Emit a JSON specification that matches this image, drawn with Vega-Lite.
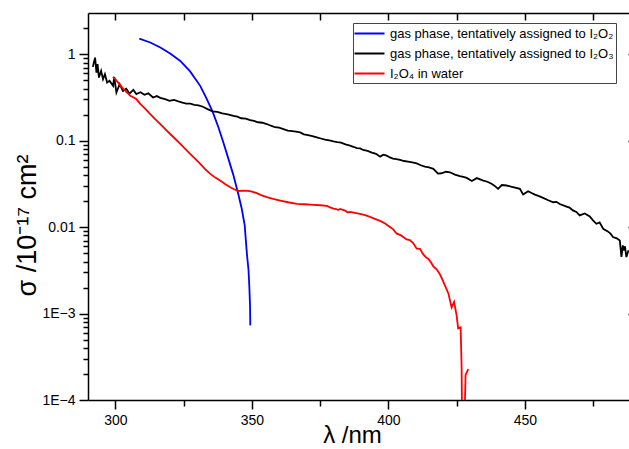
{
  "$schema": "https://vega.github.io/schema/vega-lite/v6.json",
  "width": 546,
  "height": 387,
  "autosize": {"type": "none"},
  "padding": {"left": 88, "top": 13, "right": 0, "bottom": 49},
  "background": "white",
  "config": {
    "view": {"stroke": null},
    "axis": {
      "grid": false,
      "domainColor": "black",
      "tickColor": "black",
      "domainWidth": 1.5,
      "tickWidth": 1.5,
      "labelFont": "Liberation Sans",
      "labelFontSize": 14,
      "labelColor": "black",
      "titleFont": "Liberation Sans",
      "titleFontWeight": "normal",
      "titleColor": "black"
    }
  },
  "data": {
    "values": [
      {"s": "I2O2", "x": 308.8, "y": 1.513},
      {"s": "I2O2", "x": 312.8, "y": 1.368},
      {"s": "I2O2", "x": 316.5, "y": 1.198},
      {"s": "I2O2", "x": 320.1, "y": 1.021},
      {"s": "I2O2", "x": 323.8, "y": 0.837},
      {"s": "I2O2", "x": 327.4, "y": 0.633},
      {"s": "I2O2", "x": 331.1, "y": 0.431},
      {"s": "I2O2", "x": 333.3, "y": 0.313},
      {"s": "I2O2", "x": 335.6, "y": 0.218},
      {"s": "I2O2", "x": 337.7, "y": 0.145},
      {"s": "I2O2", "x": 339.5, "y": 0.0974},
      {"s": "I2O2", "x": 341.3, "y": 0.0637},
      {"s": "I2O2", "x": 343.2, "y": 0.0405},
      {"s": "I2O2", "x": 345.0, "y": 0.0245},
      {"s": "I2O2", "x": 346.3, "y": 0.0164},
      {"s": "I2O2", "x": 347.4, "y": 0.01046},
      {"s": "I2O2", "x": 348.2, "y": 0.00493},
      {"s": "I2O2", "x": 348.8, "y": 0.00317},
      {"s": "I2O2", "x": 349.1, "y": 0.00203},
      {"s": "I2O2", "x": 349.35, "y": 0.00125},
      {"s": "I2O2", "x": 349.45, "y": 0.00073},

      {"s": "I2O3", "x": 291.8, "y": 0.714},
      {"s": "I2O3", "x": 292.1, "y": 0.794},
      {"s": "I2O3", "x": 292.6, "y": 0.914},
      {"s": "I2O3", "x": 293.1, "y": 0.614},
      {"s": "I2O3", "x": 293.5, "y": 0.767},
      {"s": "I2O3", "x": 294.0, "y": 0.537},
      {"s": "I2O3", "x": 294.8, "y": 0.642},
      {"s": "I2O3", "x": 295.5, "y": 0.515},
      {"s": "I2O3", "x": 296.2, "y": 0.588},
      {"s": "I2O3", "x": 297.0, "y": 0.470},
      {"s": "I2O3", "x": 297.9, "y": 0.492},
      {"s": "I2O3", "x": 299.2, "y": 0.431},
      {"s": "I2O3", "x": 299.6, "y": 0.547},
      {"s": "I2O3", "x": 300.4, "y": 0.361},
      {"s": "I2O3", "x": 301.6, "y": 0.451},
      {"s": "I2O3", "x": 302.8, "y": 0.377},
      {"s": "I2O3", "x": 304.0, "y": 0.398},
      {"s": "I2O3", "x": 305.2, "y": 0.351},
      {"s": "I2O3", "x": 306.6, "y": 0.388},
      {"s": "I2O3", "x": 307.7, "y": 0.346},
      {"s": "I2O3", "x": 309.2, "y": 0.363},
      {"s": "I2O3", "x": 310.7, "y": 0.339},
      {"s": "I2O3", "x": 312.1, "y": 0.353},
      {"s": "I2O3", "x": 313.8, "y": 0.316},
      {"s": "I2O3", "x": 315.2, "y": 0.328},
      {"s": "I2O3", "x": 316.5, "y": 0.313},
      {"s": "I2O3", "x": 318.2, "y": 0.302},
      {"s": "I2O3", "x": 319.9, "y": 0.289},
      {"s": "I2O3", "x": 321.5, "y": 0.296},
      {"s": "I2O3", "x": 323.1, "y": 0.285},
      {"s": "I2O3", "x": 324.6, "y": 0.276},
      {"s": "I2O3", "x": 326.0, "y": 0.269},
      {"s": "I2O3", "x": 327.5, "y": 0.268},
      {"s": "I2O3", "x": 328.9, "y": 0.260},
      {"s": "I2O3", "x": 330.5, "y": 0.256},
      {"s": "I2O3", "x": 332.1, "y": 0.247},
      {"s": "I2O3", "x": 333.8, "y": 0.232},
      {"s": "I2O3", "x": 335.6, "y": 0.218},
      {"s": "I2O3", "x": 337.4, "y": 0.216},
      {"s": "I2O3", "x": 339.2, "y": 0.2075},
      {"s": "I2O3", "x": 341.2, "y": 0.202},
      {"s": "I2O3", "x": 343.3, "y": 0.194},
      {"s": "I2O3", "x": 344.7, "y": 0.190},
      {"s": "I2O3", "x": 346.1, "y": 0.1818},
      {"s": "I2O3", "x": 347.8, "y": 0.180},
      {"s": "I2O3", "x": 349.4, "y": 0.1733},
      {"s": "I2O3", "x": 350.8, "y": 0.1690},
      {"s": "I2O3", "x": 352.3, "y": 0.1634},
      {"s": "I2O3", "x": 353.9, "y": 0.1612},
      {"s": "I2O3", "x": 355.5, "y": 0.1558},
      {"s": "I2O3", "x": 357.0, "y": 0.1490},
      {"s": "I2O3", "x": 358.5, "y": 0.1431},
      {"s": "I2O3", "x": 360.0, "y": 0.1412},
      {"s": "I2O3", "x": 361.6, "y": 0.1364},
      {"s": "I2O3", "x": 363.2, "y": 0.1310},
      {"s": "I2O3", "x": 364.8, "y": 0.1287},
      {"s": "I2O3", "x": 366.2, "y": 0.1270},
      {"s": "I2O3", "x": 367.7, "y": 0.1247},
      {"s": "I2O3", "x": 369.1, "y": 0.1185},
      {"s": "I2O3", "x": 370.6, "y": 0.1157},
      {"s": "I2O3", "x": 372.2, "y": 0.1130},
      {"s": "I2O3", "x": 373.8, "y": 0.1092},
      {"s": "I2O3", "x": 375.3, "y": 0.1060},
      {"s": "I2O3", "x": 376.8, "y": 0.1027},
      {"s": "I2O3", "x": 378.4, "y": 0.1010},
      {"s": "I2O3", "x": 379.9, "y": 0.0981},
      {"s": "I2O3", "x": 381.3, "y": 0.0960},
      {"s": "I2O3", "x": 382.7, "y": 0.0948},
      {"s": "I2O3", "x": 384.3, "y": 0.0905},
      {"s": "I2O3", "x": 386.0, "y": 0.0876},
      {"s": "I2O3", "x": 387.2, "y": 0.0850},
      {"s": "I2O3", "x": 388.5, "y": 0.0819},
      {"s": "I2O3", "x": 389.7, "y": 0.0815},
      {"s": "I2O3", "x": 390.8, "y": 0.0781},
      {"s": "I2O3", "x": 392.4, "y": 0.0760},
      {"s": "I2O3", "x": 394.0, "y": 0.0727},
      {"s": "I2O3", "x": 395.5, "y": 0.0705},
      {"s": "I2O3", "x": 397.0, "y": 0.0654},
      {"s": "I2O3", "x": 398.2, "y": 0.0690},
      {"s": "I2O3", "x": 399.4, "y": 0.0671},
      {"s": "I2O3", "x": 400.6, "y": 0.0640},
      {"s": "I2O3", "x": 401.7, "y": 0.0620},
      {"s": "I2O3", "x": 403.0, "y": 0.0612},
      {"s": "I2O3", "x": 404.3, "y": 0.0599},
      {"s": "I2O3", "x": 405.8, "y": 0.0582},
      {"s": "I2O3", "x": 407.2, "y": 0.0573},
      {"s": "I2O3", "x": 408.8, "y": 0.0560},
      {"s": "I2O3", "x": 410.4, "y": 0.0547},
      {"s": "I2O3", "x": 411.9, "y": 0.0520},
      {"s": "I2O3", "x": 413.4, "y": 0.0501},
      {"s": "I2O3", "x": 414.9, "y": 0.0490},
      {"s": "I2O3", "x": 416.5, "y": 0.0472},
      {"s": "I2O3", "x": 418.2, "y": 0.0416},
      {"s": "I2O3", "x": 419.5, "y": 0.0420},
      {"s": "I2O3", "x": 421.1, "y": 0.0437},
      {"s": "I2O3", "x": 422.6, "y": 0.0431},
      {"s": "I2O3", "x": 424.4, "y": 0.0405},
      {"s": "I2O3", "x": 426.2, "y": 0.0390},
      {"s": "I2O3", "x": 427.5, "y": 0.0382},
      {"s": "I2O3", "x": 428.7, "y": 0.0371},
      {"s": "I2O3", "x": 430.6, "y": 0.0341},
      {"s": "I2O3", "x": 432.4, "y": 0.0369},
      {"s": "I2O3", "x": 434.8, "y": 0.0346},
      {"s": "I2O3", "x": 436.3, "y": 0.0335},
      {"s": "I2O3", "x": 437.8, "y": 0.0317},
      {"s": "I2O3", "x": 439.0, "y": 0.0300},
      {"s": "I2O3", "x": 440.2, "y": 0.0277},
      {"s": "I2O3", "x": 441.6, "y": 0.0307},
      {"s": "I2O3", "x": 443.3, "y": 0.0303},
      {"s": "I2O3", "x": 445.7, "y": 0.0290},
      {"s": "I2O3", "x": 448.2, "y": 0.0277},
      {"s": "I2O3", "x": 449.4, "y": 0.0238},
      {"s": "I2O3", "x": 451.2, "y": 0.0260},
      {"s": "I2O3", "x": 452.5, "y": 0.0248},
      {"s": "I2O3", "x": 453.7, "y": 0.0238},
      {"s": "I2O3", "x": 455.2, "y": 0.0228},
      {"s": "I2O3", "x": 456.7, "y": 0.0218},
      {"s": "I2O3", "x": 458.4, "y": 0.0206},
      {"s": "I2O3", "x": 460.4, "y": 0.0194},
      {"s": "I2O3", "x": 461.6, "y": 0.0196},
      {"s": "I2O3", "x": 462.8, "y": 0.0185},
      {"s": "I2O3", "x": 465.3, "y": 0.0173},
      {"s": "I2O3", "x": 466.4, "y": 0.0168},
      {"s": "I2O3", "x": 467.6, "y": 0.0156},
      {"s": "I2O3", "x": 468.9, "y": 0.0150},
      {"s": "I2O3", "x": 470.1, "y": 0.01365},
      {"s": "I2O3", "x": 472.0, "y": 0.01439},
      {"s": "I2O3", "x": 473.8, "y": 0.01328},
      {"s": "I2O3", "x": 475.0, "y": 0.0120},
      {"s": "I2O3", "x": 476.2, "y": 0.01094},
      {"s": "I2O3", "x": 477.4, "y": 0.01133},
      {"s": "I2O3", "x": 478.7, "y": 0.00958},
      {"s": "I2O3", "x": 480.4, "y": 0.00892},
      {"s": "I2O3", "x": 481.4, "y": 0.00840},
      {"s": "I2O3", "x": 482.3, "y": 0.00767},
      {"s": "I2O3", "x": 483.7, "y": 0.00741},
      {"s": "I2O3", "x": 484.8, "y": 0.00702},
      {"s": "I2O3", "x": 485.4, "y": 0.00451},
      {"s": "I2O3", "x": 485.9, "y": 0.00615},
      {"s": "I2O3", "x": 486.2, "y": 0.00538},
      {"s": "I2O3", "x": 486.7, "y": 0.00600},
      {"s": "I2O3", "x": 487.2, "y": 0.00451},
      {"s": "I2O3", "x": 488.0, "y": 0.00538},

      {"s": "I2O4", "x": 299.16, "y": 0.547},
      {"s": "I2O4", "x": 299.5, "y": 0.530},
      {"s": "I2O4", "x": 300.0, "y": 0.515},
      {"s": "I2O4", "x": 301.1, "y": 0.467},
      {"s": "I2O4", "x": 303.0, "y": 0.395},
      {"s": "I2O4", "x": 305.5, "y": 0.330},
      {"s": "I2O4", "x": 307.7, "y": 0.303},
      {"s": "I2O4", "x": 309.2, "y": 0.265},
      {"s": "I2O4", "x": 311.0, "y": 0.2339},
      {"s": "I2O4", "x": 312.8, "y": 0.2032},
      {"s": "I2O4", "x": 314.6, "y": 0.1780},
      {"s": "I2O4", "x": 316.5, "y": 0.1558},
      {"s": "I2O4", "x": 318.3, "y": 0.1364},
      {"s": "I2O4", "x": 320.1, "y": 0.1195},
      {"s": "I2O4", "x": 322.0, "y": 0.1046},
      {"s": "I2O4", "x": 323.8, "y": 0.0916},
      {"s": "I2O4", "x": 325.6, "y": 0.0802},
      {"s": "I2O4", "x": 327.4, "y": 0.0702},
      {"s": "I2O4", "x": 329.3, "y": 0.0615},
      {"s": "I2O4", "x": 331.1, "y": 0.0538},
      {"s": "I2O4", "x": 332.9, "y": 0.0469},
      {"s": "I2O4", "x": 334.8, "y": 0.0413},
      {"s": "I2O4", "x": 336.6, "y": 0.0374},
      {"s": "I2O4", "x": 338.4, "y": 0.0346},
      {"s": "I2O4", "x": 340.2, "y": 0.0315},
      {"s": "I2O4", "x": 342.1, "y": 0.0289},
      {"s": "I2O4", "x": 343.5, "y": 0.0274},
      {"s": "I2O4", "x": 345.1, "y": 0.0262},
      {"s": "I2O4", "x": 346.9, "y": 0.0265},
      {"s": "I2O4", "x": 348.7, "y": 0.0263},
      {"s": "I2O4", "x": 350.1, "y": 0.0258},
      {"s": "I2O4", "x": 351.8, "y": 0.0247},
      {"s": "I2O4", "x": 353.4, "y": 0.0235},
      {"s": "I2O4", "x": 355.5, "y": 0.0222},
      {"s": "I2O4", "x": 357.8, "y": 0.0212},
      {"s": "I2O4", "x": 360.4, "y": 0.0203},
      {"s": "I2O4", "x": 363.3, "y": 0.0194},
      {"s": "I2O4", "x": 366.5, "y": 0.0186},
      {"s": "I2O4", "x": 369.5, "y": 0.0184},
      {"s": "I2O4", "x": 372.6, "y": 0.0181},
      {"s": "I2O4", "x": 375.0, "y": 0.0179},
      {"s": "I2O4", "x": 377.5, "y": 0.0176},
      {"s": "I2O4", "x": 378.7, "y": 0.0169},
      {"s": "I2O4", "x": 379.9, "y": 0.0164},
      {"s": "I2O4", "x": 380.9, "y": 0.0162},
      {"s": "I2O4", "x": 381.6, "y": 0.0158},
      {"s": "I2O4", "x": 382.3, "y": 0.0162},
      {"s": "I2O4", "x": 383.4, "y": 0.0158},
      {"s": "I2O4", "x": 384.2, "y": 0.0155},
      {"s": "I2O4", "x": 385.2, "y": 0.01478},
      {"s": "I2O4", "x": 386.0, "y": 0.01497},
      {"s": "I2O4", "x": 387.8, "y": 0.01458},
      {"s": "I2O4", "x": 389.6, "y": 0.01420},
      {"s": "I2O4", "x": 391.5, "y": 0.01375},
      {"s": "I2O4", "x": 393.3, "y": 0.01311},
      {"s": "I2O4", "x": 395.1, "y": 0.01243},
      {"s": "I2O4", "x": 397.0, "y": 0.01179},
      {"s": "I2O4", "x": 398.8, "y": 0.01103},
      {"s": "I2O4", "x": 400.6, "y": 0.01005},
      {"s": "I2O4", "x": 401.8, "y": 0.00941},
      {"s": "I2O4", "x": 403.1, "y": 0.00839},
      {"s": "I2O4", "x": 404.3, "y": 0.00813},
      {"s": "I2O4", "x": 405.5, "y": 0.00767},
      {"s": "I2O4", "x": 406.7, "y": 0.00721},
      {"s": "I2O4", "x": 407.9, "y": 0.00706},
      {"s": "I2O4", "x": 409.1, "y": 0.00654},
      {"s": "I2O4", "x": 410.4, "y": 0.00563},
      {"s": "I2O4", "x": 411.6, "y": 0.00560},
      {"s": "I2O4", "x": 412.8, "y": 0.00484},
      {"s": "I2O4", "x": 414.0, "y": 0.00441},
      {"s": "I2O4", "x": 414.6, "y": 0.00432},
      {"s": "I2O4", "x": 415.6, "y": 0.00392},
      {"s": "I2O4", "x": 416.5, "y": 0.00352},
      {"s": "I2O4", "x": 417.7, "y": 0.00325},
      {"s": "I2O4", "x": 418.9, "y": 0.00285},
      {"s": "I2O4", "x": 419.8, "y": 0.00249},
      {"s": "I2O4", "x": 420.7, "y": 0.00213},
      {"s": "I2O4", "x": 422.0, "y": 0.00171},
      {"s": "I2O4", "x": 423.2, "y": 0.001176},
      {"s": "I2O4", "x": 424.1, "y": 0.001364},
      {"s": "I2O4", "x": 425.0, "y": 0.000958},
      {"s": "I2O4", "x": 425.6, "y": 0.000673},
      {"s": "I2O4", "x": 426.5, "y": 0.000691},
      {"s": "I2O4", "x": 426.85, "y": 0.000243},
      {"s": "I2O4", "x": 427.1, "y": 0.00003},
      {"s": "I2O4", "x": 427.7, "y": 0.00003},
      {"s": "I2O4", "x": 428.3, "y": 0.000195},
      {"s": "I2O4", "x": 429.3, "y": 0.000228}
    ]
  },
  "layer": [
    {
      "mark": {"type": "line", "strokeWidth": 1.8, "clip": true},
      "encoding": {
        "x": {
          "field": "x", "type": "quantitative",
          "scale": {"domain": [290, 490], "nice": false, "zero": false},
          "axis": {
            "orient": "bottom", "values": [300, 350, 400, 450], "tickSize": 9,
            "labelPadding": 4, "title": "λ /nm", "titleFontSize": 24, "titlePadding": -4, "titleX": 264
          }
        },
        "y": {
          "field": "y", "type": "quantitative",
          "scale": {"type": "log", "domain": [0.0001, 3], "nice": false},
          "axis": {
            "orient": "left", "values": [0.0001, 0.001, 0.01, 0.1, 1], "tickSize": 9,
            "labelPadding": 4,
            "labelExpr": "datum.value >= 0.01 ? '' + datum.value : '1E' + format(log(datum.value) / LN10, '.0f')",
            "title": "σ /10⁻¹⁷ cm²", "titleFontSize": 27, "titlePadding": 0, "titleY": 212
          }
        },
        "color": {
          "field": "s", "type": "nominal",
          "scale": {"domain": ["I2O2", "I2O3", "I2O4"], "range": ["#0000ff", "#000000", "#ff0000"]},
          "legend": {
            "orient": "none", "legendX": 265, "legendY": 10, "title": null,
            "symbolType": "M-2,0H2", "symbolSize": 225, "symbolStrokeWidth": 2,
            "symbolOffset": 6,
            "labelFont": "Liberation Sans", "labelFontSize": 13, "labelColor": "black",
            "labelLimit": 400,
            "labelOffset": 12, "strokeColor": "#444444", "fillColor": "white",
            "padding": 2, "rowPadding": 4,
            "labelExpr": "datum.value == 'I2O2' ? 'gas phase, tentatively assigned to I₂O₂' : datum.value == 'I2O3' ? 'gas phase, tentatively assigned to I₂O₃' : 'I₂O₄ in water'"
          }
        }
      }
    },
    {
      "mark": {"type": "point", "opacity": 0},
      "encoding": {
        "x": {
          "field": "x", "type": "quantitative",
          "scale": {"domain": [290, 490], "nice": false, "zero": false},
          "axis": {"orient": "bottom", "values": [325, 375, 425, 475], "tickSize": 6, "labels": false, "domain": false, "title": null}
        },
        "y": {
          "field": "y", "type": "quantitative",
          "scale": {"type": "log", "domain": [0.0001, 3], "nice": false},
          "axis": {
            "orient": "left",
            "values": [0.0002, 0.0003, 0.0004, 0.0005, 0.0006, 0.0007, 0.0008, 0.0009, 0.002, 0.003, 0.004, 0.005, 0.006, 0.007, 0.008, 0.009, 0.02, 0.03, 0.04, 0.05, 0.06, 0.07, 0.08, 0.09, 0.2, 0.3, 0.4, 0.5, 0.6, 0.7, 0.8, 0.9, 2],
            "tickSize": 5, "labels": false, "domain": false, "title": null
          }
        }
      }
    },
    {
      "mark": {"type": "point", "opacity": 0},
      "encoding": {
        "x": {
          "field": "x", "type": "quantitative",
          "scale": {"domain": [290, 490], "nice": false, "zero": false},
          "axis": {"orient": "top", "values": [300, 325, 350, 375, 400, 425, 450, 475], "tickSize": -7, "labels": false, "title": null}
        },
        "y": {
          "field": "y", "type": "quantitative",
          "scale": {"type": "log", "domain": [0.0001, 3], "nice": false},
          "axis": {"orient": "right", "values": [0.001, 0.01, 0.1, 1], "tickSize": -6, "labels": false, "title": null}
        }
      }
    }
  ],
  "resolve": {
    "scale": {"x": "shared", "y": "shared"},
    "axis": {"x": "independent", "y": "independent"}
  }
}
